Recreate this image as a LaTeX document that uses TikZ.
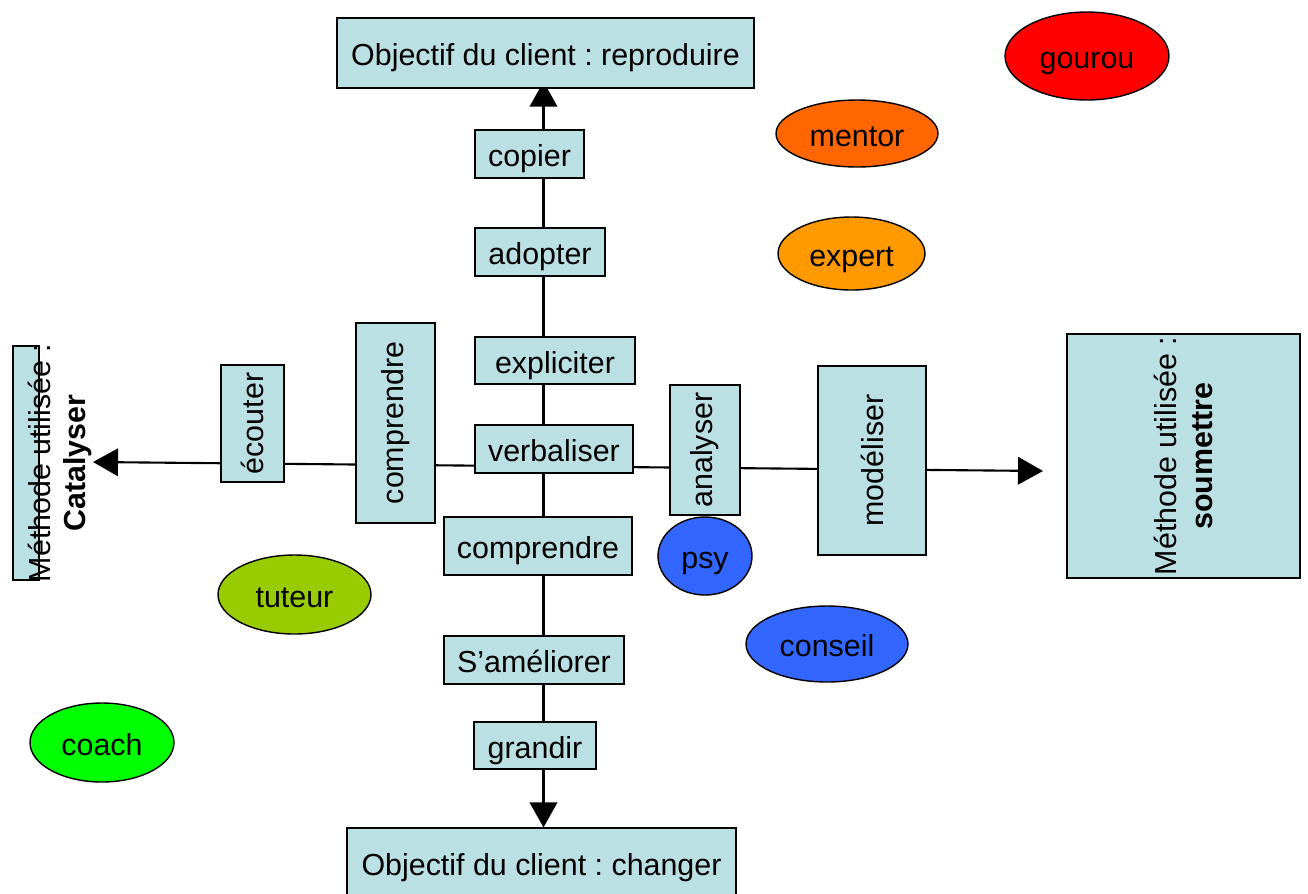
\documentclass[tikz,border=0pt]{standalone}
\usepackage{fontspec}
\setmainfont{Liberation Sans}
\usepackage{tikz}
\usetikzlibrary{
	arrows.meta,
	shapes.geometric,
	backgrounds
}
\definecolor{bleuclair}{HTML}{BBE0E3}
\definecolor{rouge}{HTML}{FF0000}
\definecolor{orange1}{HTML}{FF6600}
\definecolor{orange2}{HTML}{FF9900}
\definecolor{bleu}{HTML}{3366FF}
\definecolor{olive}{HTML}{99CC00}
\definecolor{vert}{HTML}{00FF00}
\frenchspacing

\begin{document}
\begin{tikzpicture}[
			x=0.02cm, y=-0.02cm,
			font=\fontsize{17.3}{20}\selectfont,
			boite/.style={draw, line width=0.7pt, fill=bleuclair, inner sep=0pt, align=center},
			hboite/.style={boite, text height=17pt, text depth=2.6pt},
			vboite/.style={boite, rotate=90},
			role/.style={draw, ellipse, line width=0.8pt, inner sep=0pt, text height=17pt, text depth=2.6pt},
			fleche/.style={-{Triangle[length=0.5cm, width=0.55cm]}, line width=1.2pt},
			trait/.style={line width=1.2pt}
		]
		\useasboundingbox (0,0) rectangle (1308,893);

		\node[hboite, minimum width=8.34cm, minimum height=1.4cm] (repro) at (545.5,53) {Objectif du client : reproduire};
		\node[hboite, minimum width=7.78cm, minimum height=1.4cm] (changer) at (541.5,863) {Objectif du client : changer};

		\node[hboite, minimum width=2.18cm, minimum height=0.96cm] (copier) at (529.5,154) {copier};
		\node[hboite, minimum width=2.6cm, minimum height=0.96cm] (adopter) at (540,252) {adopter};
		\node[hboite, minimum width=3.2cm, minimum height=0.94cm] (expliciter) at (555,360.5) {expliciter};
		\node[hboite, minimum width=3.16cm, minimum height=0.96cm] (verbaliser) at (554,449) {verbaliser};
		\node[hboite, minimum width=3.76cm, minimum height=1.16cm] (comprendreb) at (538,546) {comprendre};
		\node[hboite, minimum width=3.6cm, minimum height=0.96cm] (ameliorer) at (534,660) {S’améliorer};
		\node[hboite, minimum width=2.44cm, minimum height=0.94cm] (grandir) at (535,745.5) {grandir};

		\node[vboite, minimum width=2.34cm, minimum height=1.26cm] (ecouter) at (252.5,423.5) {écouter};
		\node[vboite, minimum width=4cm, minimum height=1.58cm] (comprendrea) at (395.5,423) {comprendre};
		\node[vboite, minimum width=2.6cm, minimum height=1.4cm] (analyser) at (705,450) {analyser};
		\node[vboite, minimum width=3.78cm, minimum height=2.16cm] (modeliser) at (872,460.5) {modéliser};

		\node[boite, minimum width=0.52cm, minimum height=4.68cm] (catbox) at (26,463) {};
		\node[rotate=90, align=center, inner sep=0pt] (catalyser) at (60,463) {Méthode utilisée :\\\textbf{Catalyser}};
		\node[vboite, minimum width=4.88cm, minimum height=4.66cm] (soumettre) at (1183.5,456) {Méthode utilisée :\\\textbf{soumettre}};

		\node[role, fill=rouge, minimum width=3.28cm, minimum height=1.76cm] (gourou) at (1087,56) {gourou};
		\node[role, fill=orange1, minimum width=3.24cm, minimum height=1.34cm] (mentor) at (857,133.5) {mentor};
		\node[role, fill=orange2, minimum width=2.94cm, minimum height=1.46cm] (expert) at (851.5,253.5) {expert};
		\node[role, fill=bleu, minimum width=1.88cm, minimum height=1.56cm] (psy) at (705,556) {psy};
		\node[role, fill=bleu, minimum width=3.24cm, minimum height=1.52cm] (conseil) at (827,644) {conseil};
		\node[role, fill=olive, minimum width=3.06cm, minimum height=1.58cm] (tuteur) at (294.5,594.5) {tuteur};
		\node[role, fill=vert, minimum width=2.88cm, minimum height=1.58cm] (coach) at (102,742.5) {coach};

		\coordinate (centre) at (543.5,466.3);
		\coordinate (gauche) at (93,462);
		\coordinate (droite) at (1043,471);

		\begin{scope}[on background layer]
			\draw[fleche] (centre) -- (gauche);
			\draw[fleche] (centre) -- (droite);
			\draw[fleche, shorten >=-0.14cm] (centre) -- (centre |- repro.south);
			\draw[fleche] (centre) -- (centre |- changer.north);
		\end{scope}
	\end{tikzpicture}
\end{document}
